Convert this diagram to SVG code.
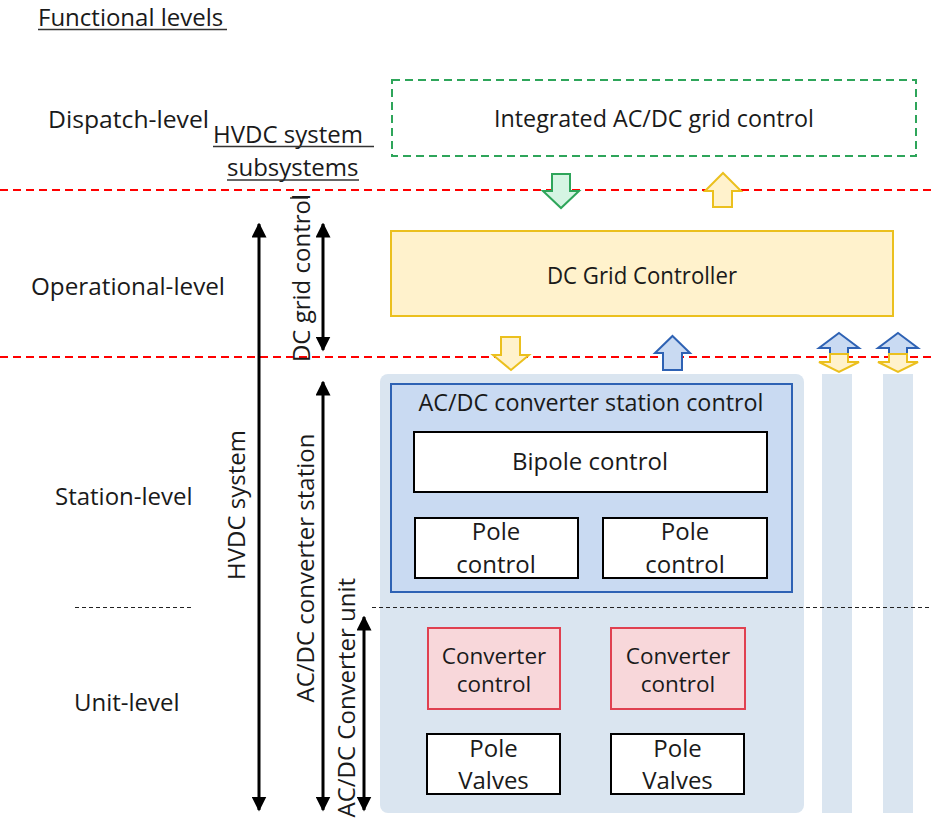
<svg xmlns="http://www.w3.org/2000/svg" width="932" height="819" viewBox="0 0 932 819">
  <style>
    text { font-family: "Open Sans", "Noto Sans", "Liberation Sans", sans-serif; font-size: 24px; fill: #1a1a1a; }
    .mid { text-anchor: middle; }
    .sm { font-size: 22.5px; }
    .ul { stroke: #333; stroke-width: 1.5; }
    .red { stroke: #ff0000; stroke-width: 2; stroke-dasharray: 8 5; fill: none; }
    .blk { stroke: #222; stroke-width: 1; stroke-dasharray: 4 3; fill: none; }
    .span { stroke: #000; stroke-width: 3; fill: none; marker-start: url(#head); marker-end: url(#head); }
    .yel { fill: #fff2cc; stroke: #ebc01e; stroke-width: 2; }
    .blu { fill: #c9daf2; stroke: #2e62b4; stroke-width: 2; }
    .grn { fill: #d5f5e3; stroke: #2ea55a; stroke-width: 2; }
    .wbox { fill: #fff; stroke: #000; stroke-width: 2; }
    .rbox { fill: #f8d7da; stroke: #e04050; stroke-width: 2; }
    .col { fill: #dae5f0; }
  </style>
  <defs>
    <marker id="head" viewBox="0 0 10 10" refX="9" refY="5" markerWidth="5" markerHeight="5" orient="auto-start-reverse" markerUnits="strokeWidth">
      <path d="M0,0 L10,5 L0,10 z" fill="#000"/>
    </marker>
  </defs>

  <!-- headings and level names -->
  <g id="headings">
    <text x="38" y="26">Functional levels</text>
    <line class="ul" x1="38" y1="29.5" x2="227" y2="29.5"/>
    <text x="48" y="128" textLength="161" lengthAdjust="spacingAndGlyphs">Dispatch-level</text>
    <text x="213" y="143">HVDC system</text>
    <line class="ul" x1="213" y1="146.5" x2="374" y2="146.5"/>
    <text x="227" y="176">subsystems</text>
    <line class="ul" x1="227" y1="180" x2="359" y2="180"/>
    <line class="ul" x1="290" y1="198" x2="308" y2="198"/>
    <text x="31" y="295" textLength="194" lengthAdjust="spacingAndGlyphs">Operational-level</text>
    <text x="55" y="505">Station-level</text>
    <text x="74" y="711">Unit-level</text>
  </g>

  <!-- level boundaries -->
  <g id="boundaries">
    <line class="red" x1="0" y1="190" x2="932" y2="190"/>
    <line class="red" x1="0" y1="357" x2="932" y2="357"/>
  </g>

  <!-- station area and side columns -->
  <g id="station-area">
    <rect x="380" y="374" width="424" height="439" rx="8" class="col"/>
    <rect x="822" y="374" width="30" height="439" class="col"/>
    <rect x="883" y="374" width="30" height="439" class="col"/>
  </g>

  <line class="blk" x1="75" y1="607.5" x2="192" y2="607.5"/>
  <line class="blk" x1="372" y1="607.5" x2="932" y2="607.5"/>

  <g id="integrated-control">
    <rect x="392" y="80" width="524" height="76" fill="none" stroke="#2ea55a" stroke-width="2" stroke-dasharray="8 5"/>
    <text x="654" y="127" class="mid" textLength="320" lengthAdjust="spacingAndGlyphs">Integrated AC/DC grid control</text>
  </g>

  <g id="dc-grid-controller">
    <rect x="391" y="231" width="502" height="85" class="yel"/>
    <text x="642" y="284" class="mid" textLength="190" lengthAdjust="spacingAndGlyphs">DC Grid Controller</text>
  </g>

  <g id="station-control">
    <rect x="391" y="384" width="401" height="208" class="blu"/>
    <text x="591" y="411" class="mid" textLength="345" lengthAdjust="spacingAndGlyphs">AC/DC converter station control</text>
  </g>

  <g id="bipole-control">
    <rect x="414" y="432" width="353" height="60" class="wbox"/>
    <text x="590" y="470" class="mid">Bipole control</text>
  </g>

  <g id="pole-control-1">
    <rect x="415" y="518" width="163" height="60" class="wbox"/>
    <text x="496" y="540" class="mid">Pole</text>
    <text x="496" y="573" class="mid">control</text>
  </g>

  <g id="pole-control-2">
    <rect x="603" y="518" width="164" height="60" class="wbox"/>
    <text x="685" y="540" class="mid">Pole</text>
    <text x="685" y="573" class="mid">control</text>
  </g>

  <g id="converter-control-1">
    <rect x="428" y="628" width="132" height="81" class="rbox"/>
    <text x="494" y="664" class="mid sm">Converter</text>
    <text x="494" y="692" class="mid sm">control</text>
  </g>

  <g id="converter-control-2">
    <rect x="611" y="628" width="134" height="81" class="rbox"/>
    <text x="678" y="664" class="mid sm">Converter</text>
    <text x="678" y="692" class="mid sm">control</text>
  </g>

  <g id="pole-valves-1">
    <rect x="427" y="734" width="133" height="60" class="wbox"/>
    <text x="493.5" y="757" class="mid">Pole</text>
    <text x="493.5" y="789" class="mid">Valves</text>
  </g>

  <g id="pole-valves-2">
    <rect x="611" y="734" width="133" height="60" class="wbox"/>
    <text x="677.5" y="757" class="mid">Pole</text>
    <text x="677.5" y="789" class="mid">Valves</text>
  </g>

  <!-- scope labels -->
  <g id="scope-labels">
    <text transform="translate(245,505) rotate(-90)" class="mid">HVDC system</text>
    <text transform="translate(310,278) rotate(-90)" class="mid">DC grid control</text>
    <text transform="translate(314,568) rotate(-90)" class="mid">AC/DC converter station</text>
    <text transform="translate(355,578) rotate(-90)" text-anchor="end">AC/DC Converter unit</text>
  </g>

  <g id="connectors">
    <!-- scope spans -->
    <line class="span" x1="259" y1="224" x2="259" y2="810"/>
    <line class="span" x1="323" y1="224" x2="323" y2="350"/>
    <line class="span" x1="323" y1="382" x2="323" y2="810"/>
    <line class="span" x1="364" y1="617" x2="364" y2="810"/>

    <!-- information flow between levels -->
    <polygon class="grn" points="552,174 570,174 570,191 579,191 561,208 543,191 552,191"/>
    <polygon class="yel" points="723,173 741,191 732,191 732,207 713,207 713,191 705,191"/>
    <polygon class="yel" points="501,337 520,337 520,355 529,355 511,370 493,355 501,355"/>
    <polygon class="blu" points="672.5,336 690,353 682,353 682,370 663,370 663,353 655,353"/>

    <polygon class="blu" points="839,333 859,348 848,348 848,356 830,356 830,348 819,348"/>
    <polygon class="yel" points="830,354 848,354 848,362 859,362 839,372 819,362 830,362"/>
    <polygon class="blu" points="898,333 918,348 907,348 907,356 889,356 889,348 878,348"/>
    <polygon class="yel" points="889,354 907,354 907,362 918,362 898,372 878,362 889,362"/>
  </g>
</svg>
